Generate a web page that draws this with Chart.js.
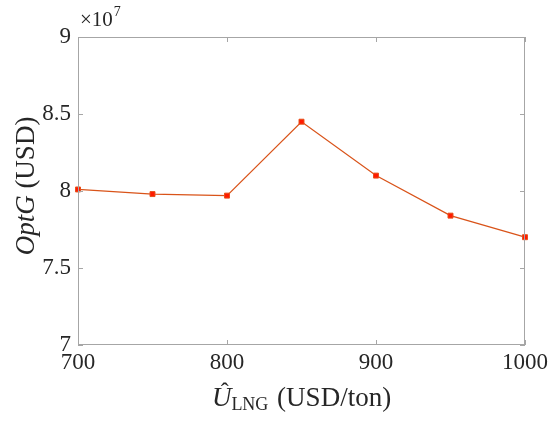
<!DOCTYPE html>
<html><head><meta charset="utf-8">
<script src="https://cdn.jsdelivr.net/npm/chart.js@4"></script>
<style>html,body{margin:0;padding:0;background:#fff;}#wrap{width:551px;height:421px;}</style>
</head><body><div id="wrap"><canvas id="c" width="551" height="421"></canvas></div>
<script>
const prices = [700, 750, 800, 850, 900, 950, 1000];
const optG = [8.01, 7.98, 7.97, 8.45, 8.10, 7.84, 7.70]; // ×10^7 USD
const xTicks = [700, 800, 900, 1000];
const yTicks = [7, 7.5, 8, 8.5, 9];

const FONT = '"Liberation Serif", "DejaVu Serif", serif';
const AX = '#a6a6a6';

const framePlugin = {
  id: 'frame',
  afterDraw(chart) {
    const {ctx, chartArea: a, scales: {x, y}} = chart;
    ctx.save();
    ctx.strokeStyle = AX; ctx.lineWidth = 1;
    ctx.strokeRect(a.left + 0.5, a.top + 0.5, a.right - a.left - 1, a.bottom - a.top - 1);
    ctx.beginPath();
    xTicks.forEach(v => {
      const px = Math.round(x.getPixelForValue(v)) + 0.5;
      ctx.moveTo(px, a.bottom); ctx.lineTo(px, a.bottom - 5);
      ctx.moveTo(px, a.top); ctx.lineTo(px, a.top + 5);
    });
    yTicks.forEach(v => {
      const py = Math.round(y.getPixelForValue(v)) + 0.5;
      ctx.moveTo(a.left, py); ctx.lineTo(a.left + 5, py);
      ctx.moveTo(a.right, py); ctx.lineTo(a.right - 5, py);
    });
    ctx.stroke();
    ctx.fillStyle = '#262626';
    // exponent
    ctx.textBaseline = 'alphabetic'; ctx.textAlign = 'left';
    ctx.font = '21px ' + FONT;
    ctx.fillText('\u00d710', a.left + 2, a.top - 11);
    const w = ctx.measureText('\u00d710').width;
    ctx.font = '14px ' + FONT;
    ctx.fillText('7', a.left + 2 + w + 1, a.top - 21);
    // x title: Û_LNG (USD/ton)
    const cx = (a.left + a.right) / 2;
    const by = 406;
    ctx.font = 'italic 27px ' + FONT;
    const uW = ctx.measureText('U').width;
    ctx.font = '18px ' + FONT;
    const lngW = ctx.measureText('LNG').width;
    ctx.font = '27px ' + FONT;
    const restW = ctx.measureText(' (USD/ton)').width;
    let sx = cx - (uW + lngW + 2 + restW) / 2;
    ctx.font = 'italic 27px ' + FONT;
    ctx.fillText('U', sx, by);
    ctx.font = '24px ' + FONT;
    ctx.textAlign = 'center';
    ctx.fillText('\u02c6', sx + uW / 2 + 3, by - 7);
    ctx.textAlign = 'left';
    ctx.font = '18px ' + FONT;
    ctx.fillText('LNG', sx + uW, by + 4);
    ctx.font = '27px ' + FONT;
    ctx.fillText(' (USD/ton)', sx + uW + lngW + 2, by);
    // y title
    ctx.save();
    ctx.translate(34, 186);
    ctx.rotate(-Math.PI / 2);
    ctx.font = 'italic 27px ' + FONT;
    const oW = ctx.measureText('OptG').width;
    ctx.font = '27px ' + FONT;
    const uW2 = ctx.measureText(' (USD)').width;
    let s2 = -(oW + uW2) / 2;
    ctx.font = 'italic 27px ' + FONT;
    ctx.fillText('OptG', s2, 0);
    ctx.font = '27px ' + FONT;
    ctx.fillText(' (USD)', s2 + oW, 0);
    ctx.restore();
    ctx.restore();
  }
};

new Chart(document.getElementById('c'), {
  type: 'line',
  data: {
    datasets: [{
      data: prices.map((p, i) => ({x: p, y: optG[i]})),
      borderColor: '#d95319',
      borderWidth: 1.2,
      backgroundColor: '#ff1a00',
      pointBackgroundColor: '#ff1a00',
      pointBorderColor: '#e8501a',
      pointBorderWidth: 1,
      pointStyle: 'rect',
      pointRadius: 3.5,
      tension: 0,
      clip: false
    }]
  },
  options: {
    responsive: false,
    animation: false,
    layout: {padding: {top: 37, right: 26, left: 0, bottom: 0}},
    plugins: {legend: {display: false}, tooltip: {enabled: false}},
    scales: {
      x: {
        type: 'linear', min: 700, max: 1000,
        afterBuildTicks: s => { s.ticks = xTicks.map(v => ({value: v})); },
        afterFit: s => { s.height = 76; s.paddingLeft = 0; s.paddingRight = 0; },
        grid: {display: false, drawTicks: false},
        border: {display: false},
        ticks: {padding: 4, color: '#262626', font: {family: FONT, size: 23}, maxRotation: 0,
                callback: v => String(v)}
      },
      y: {
        type: 'linear', min: 7, max: 9,
        afterBuildTicks: s => { s.ticks = yTicks.map(v => ({value: v})); },
        afterFit: s => { s.width = 78; s.paddingTop = 0; s.paddingBottom = 0; },
        grid: {display: false, drawTicks: false},
        border: {display: false},
        ticks: {padding: 7, color: '#262626', font: {family: FONT, size: 23},
                callback: v => String(v)}
      }
    }
  },
  plugins: [framePlugin]
});
</script>
</body></html>
